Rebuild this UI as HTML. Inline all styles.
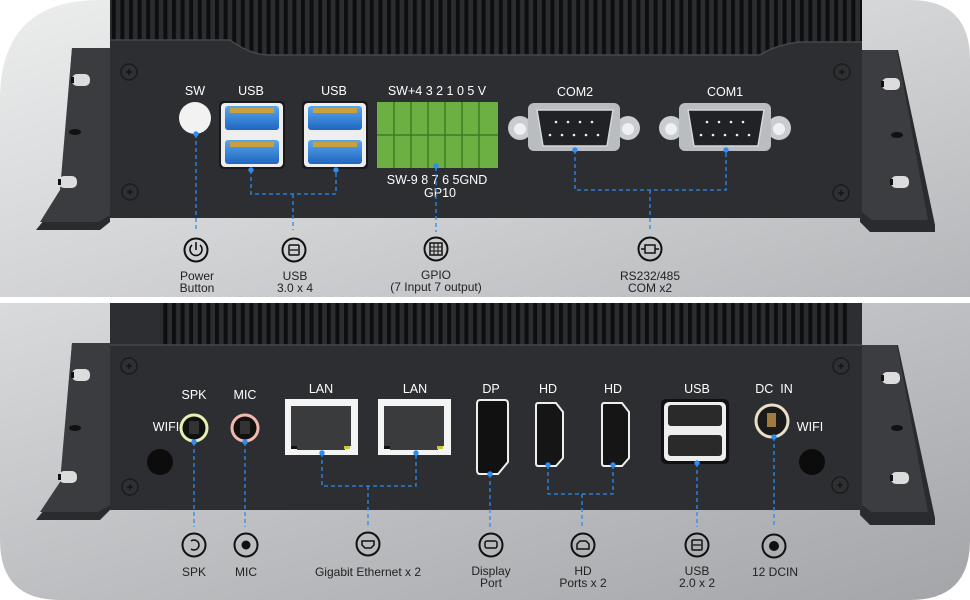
<!DOCTYPE html>
<html><head><meta charset="utf-8"><style>
html,body{margin:0;padding:0;background:#fff;}
svg{display:block;}
text{font-family:"Liberation Sans",sans-serif;}
</style></head><body>
<svg width="970" height="600" viewBox="0 0 970 600" xmlns="http://www.w3.org/2000/svg">
<defs>
<linearGradient id="bg" x1="0" y1="0" x2="1" y2="1">
<stop offset="0" stop-color="#eceded"/><stop offset="0.5" stop-color="#d3d4d6"/><stop offset="1" stop-color="#b4b6b9"/>
</linearGradient>
<linearGradient id="bg2" x1="0" y1="0" x2="1" y2="1">
<stop offset="0" stop-color="#d9dadc"/><stop offset="0.6" stop-color="#b8babd"/><stop offset="1" stop-color="#a3a5a9"/>
</linearGradient>
<pattern id="fins" width="8.6" height="60" patternUnits="userSpaceOnUse">
<rect width="8.6" height="60" fill="#2b2d30"/><rect x="0" width="4" height="60" fill="#0d0e10"/>
</pattern>
<linearGradient id="blue" x1="0" y1="0" x2="0" y2="1"><stop offset="0" stop-color="#5aa6ee"/><stop offset="1" stop-color="#1f66c0"/></linearGradient>
<g id="screw"><circle r="8" fill="#2e3033" stroke="#1a1b1d" stroke-width="1.5"/><path d="M-3 0h6M0-3v6" stroke="#111" stroke-width="1.2"/></g>
<g id="slot"><rect x="-9" y="-6" width="18" height="12" rx="5" fill="#dcdcdc"/><rect x="-10" y="-3" width="3" height="6" fill="#111"/></g>
</defs>

<!-- TOP PANEL -->
<path d="M100 0 H910 Q970 0 970 60 V297 H0 V100 Q0 0 100 0Z" fill="url(#bg)"/>
<path d="M72 48 H110 V222 L100 230 H36 L60 200Z" fill="#2a2b2e"/>
<path d="M72 48 H110 V215 L98 222 H40 L60 190Z" fill="#3a3c40"/>
<use href="#slot" x="81" y="80"/><use href="#slot" x="68" y="182"/>
<ellipse cx="75" cy="132" rx="6" ry="3" fill="#111"/>
<path d="M862 50 H898 L935 225 V232 H870 L860 222Z" fill="#2a2b2e"/>
<path d="M862 50 H897 L928 220 H872 L862 212Z" fill="#3b3d41"/>
<use href="#slot" x="891" y="84"/><use href="#slot" x="900" y="182"/>
<ellipse cx="897" cy="135" rx="6" ry="3" fill="#111"/>
<rect x="110" y="0" width="752" height="60" fill="url(#fins)"/>
<path d="M110 40 H230 Q250 55 270 55 H760 Q775 45 800 42 H862 V218 H110Z" fill="#2c2e31"/>
<path d="M110 40 H230 Q250 55 270 55 H760 Q775 45 800 42 H862" fill="none" stroke="#44474b" stroke-width="1.5"/>
<use href="#screw" x="129" y="72"/><use href="#screw" x="130" y="192"/>
<use href="#screw" x="842" y="72"/><use href="#screw" x="841" y="193"/>

<g font-size="12.5" fill="#fff" text-anchor="middle">
<text x="195" y="95">SW</text><text x="251" y="95">USB</text><text x="334" y="95">USB</text>
<text x="437" y="95">SW+4 3 2 1 0 5 V</text>
<text x="437" y="184">SW-9 8 7 6 5GND</text><text x="440" y="197">GP10</text>
<text x="575" y="96">COM2</text><text x="725" y="96">COM1</text>
</g>
<circle cx="195" cy="118" r="16" fill="#f2f2f2"/>
<g id="u3">
<rect x="219" y="101" width="66" height="68" rx="4" fill="#1a1a1c"/>
<rect x="221" y="103" width="62" height="64" rx="4" fill="#eee"/>
<rect x="225" y="106" width="54" height="24" rx="3" fill="url(#blue)"/>
<rect x="225" y="140" width="54" height="24" rx="3" fill="url(#blue)"/>
<rect x="230" y="108" width="44" height="5" fill="#c8a040"/><rect x="230" y="142" width="44" height="5" fill="#c8a040"/>
</g>
<use href="#u3" x="83"/>
<rect x="377" y="102" width="121" height="66" fill="#6cb043"/>
<g stroke="#3e7a23" stroke-width="1.5">
<path d="M377 135 H498"/>
<path d="M394 102V168M411 102V168M428 102V168M445 102V168M462 102V168M479 102V168"/>
</g>
<g id="com">
<circle cx="520" cy="128" r="12" fill="#c9ccd0"/><circle cx="520" cy="129" r="6" fill="#eef0f2"/>
<circle cx="628" cy="128" r="12" fill="#c9ccd0"/><circle cx="628" cy="129" r="6" fill="#eef0f2"/>
<rect x="528" y="103" width="92" height="48" rx="6" fill="#b9bcc0"/>
<path d="M537 110 H613 L607 146 H543Z" fill="#202225" stroke="#d5d7da" stroke-width="1.5"/>
<g fill="#eee"><circle cx="556" cy="122" r="1.3"/><circle cx="568" cy="122" r="1.3"/><circle cx="580" cy="122" r="1.3"/><circle cx="592" cy="122" r="1.3"/>
<circle cx="550" cy="135" r="1.3"/><circle cx="562" cy="135" r="1.3"/><circle cx="574" cy="135" r="1.3"/><circle cx="586" cy="135" r="1.3"/><circle cx="598" cy="135" r="1.3"/></g>
</g>
<use href="#com" x="151"/>

<g stroke="#2b8cf2" stroke-width="1.3" stroke-dasharray="4 3" fill="none">
<path d="M196 134 V230"/>
<path d="M251 170 V194 H336 V170 M293 194 V230"/>
<path d="M436 167 V232"/>
<path d="M575 150 V190 H726 V150 M650 190 V232"/>
</g>
<g fill="#2b8cf2"><circle cx="196" cy="134" r="2.7"/><circle cx="251" cy="170" r="2.7"/><circle cx="336" cy="170" r="2.7"/><circle cx="436" cy="166" r="2.7"/><circle cx="575" cy="150" r="2.7"/><circle cx="726" cy="150" r="2.7"/></g>

<g fill="none" stroke="#111" stroke-width="2">
<circle cx="196" cy="250" r="11.5"/><circle cx="294" cy="250" r="11.5"/><circle cx="436" cy="249" r="11.5"/><circle cx="650" cy="249" r="11.5"/>
<path d="M192 245 A6 6 0 1 0 200 245 M196 242 V250" stroke-width="1.6"/>
<rect x="289" y="245" width="10" height="10" rx="1" stroke-width="1.5"/><path d="M290 250 H298" stroke-width="1.3"/>
<rect x="430" y="243" width="12" height="12" stroke-width="1.5"/><path d="M434 243V255M438 243V255M430 247H442M430 251H442" stroke-width="1"/>
<rect x="645" y="245" width="10" height="8" stroke-width="1.5"/><path d="M641 249H645M655 249H659" stroke-width="1.5"/>
</g>
<g font-size="12" fill="#222" text-anchor="middle">
<text x="197" y="280">Power</text><text x="197" y="292">Button</text>
<text x="295" y="280">USB</text><text x="295" y="292">3.0 x 4</text>
<text x="436" y="279">GPIO</text><text x="436" y="291">(7 Input 7 output)</text>
<text x="650" y="280">RS232/485</text><text x="650" y="292">COM x2</text>
</g>

<!-- BOTTOM PANEL -->
<path d="M0 303 H970 V540 Q970 600 910 600 H60 Q0 600 0 540Z" fill="url(#bg2)"/>
<path d="M72 343 H110 V510 L100 520 H36 L60 490Z" fill="#2a2b2e"/>
<path d="M72 343 H110 V505 L98 512 H40 L60 482Z" fill="#3a3c40"/>
<use href="#slot" x="81" y="375"/><use href="#slot" x="68" y="477"/>
<ellipse cx="75" cy="428" rx="6" ry="3" fill="#111"/>
<path d="M862 345 H898 L935 518 V525 H870 L860 515Z" fill="#2a2b2e"/>
<path d="M862 345 H897 L928 512 H872 L862 505Z" fill="#3b3d41"/>
<use href="#slot" x="891" y="378"/><use href="#slot" x="900" y="478"/>
<ellipse cx="897" cy="428" rx="6" ry="3" fill="#111"/>
<rect x="110" y="303" width="752" height="207" fill="#2c2e31"/>
<rect x="160" y="303" width="690" height="42" fill="url(#fins)"/>
<path d="M110 345 H862" stroke="#44474b" stroke-width="1.5"/>
<use href="#screw" x="129" y="366"/><use href="#screw" x="130" y="487"/>
<use href="#screw" x="841" y="366"/><use href="#screw" x="840" y="485"/>
<circle cx="160" cy="462" r="13" fill="#0c0c0d"/><circle cx="812" cy="462" r="13" fill="#0c0c0d"/>

<g font-size="12.5" fill="#fff" text-anchor="middle">
<text x="166" y="431">WIFI</text><text x="810" y="431">WIFI</text>
<text x="194" y="399">SPK</text><text x="245" y="399">MIC</text>
<text x="321" y="393">LAN</text><text x="415" y="393">LAN</text>
<text x="491" y="393">DP</text><text x="548" y="393">HD</text><text x="613" y="393">HD</text>
<text x="697" y="393">USB</text><text x="774" y="393">DC&#160;&#160;IN</text>
</g>
<circle cx="194" cy="428" r="13" fill="#111" stroke="#e6f0b0" stroke-width="3"/>
<rect x="189" y="421" width="10" height="13" fill="#333"/>
<circle cx="245" cy="428" r="13" fill="#111" stroke="#f2b8b0" stroke-width="3"/>
<rect x="240" y="421" width="10" height="13" fill="#333"/>
<g id="lan">
<rect x="285" y="399" width="73" height="56" fill="#f4f4f4"/>
<rect x="291" y="406" width="60" height="40" fill="#3a3b3d"/>
<rect x="297" y="440" width="48" height="10" fill="#3a3b3d"/>
<rect x="291" y="446" width="6" height="3" fill="#111"/><rect x="344" y="446" width="6" height="3" fill="#c8c83a"/>
</g>
<use href="#lan" x="93"/>
<path d="M480 400 H505 Q508 400 508 404 V462 L498 474 H480 Q477 474 477 470 V404 Q477 400 480 400Z" fill="#111" stroke="#eee" stroke-width="2"/>
<g id="hd">
<path d="M538 403 H556 L563 412 V458 L556 466 H538 Q536 466 536 463 V406 Q536 403 538 403Z" fill="#151515" stroke="#eee" stroke-width="2"/>
</g>
<use href="#hd" x="66"/>
<rect x="661" y="399" width="68" height="65" rx="5" fill="#111"/>
<rect x="664" y="402" width="62" height="59" rx="5" fill="#eee"/>
<rect x="668" y="405" width="54" height="21" rx="3" fill="#2a2a2a"/><rect x="668" y="435" width="54" height="21" rx="3" fill="#2a2a2a"/>
<circle cx="772" cy="421" r="16" fill="#1a1a1a" stroke="#e8e0c8" stroke-width="3"/>
<rect x="767" y="413" width="9" height="14" fill="#a07a40"/>

<g stroke="#2b8cf2" stroke-width="1.3" stroke-dasharray="4 3" fill="none">
<path d="M194 442 V527"/><path d="M245 442 V527"/>
<path d="M322 453 V486 H416 V453 M368 486 V527"/>
<path d="M490 474 V527"/>
<path d="M548 465 V494 H613 V465 M582 494 V527"/>
<path d="M697 463 V527"/><path d="M774 437 V527"/>
</g>
<g fill="#2b8cf2"><circle cx="194" cy="442" r="2.7"/><circle cx="245" cy="442" r="2.7"/><circle cx="322" cy="453" r="2.7"/><circle cx="416" cy="453" r="2.7"/><circle cx="490" cy="474" r="2.7"/><circle cx="548" cy="465" r="2.7"/><circle cx="613" cy="465" r="2.7"/><circle cx="697" cy="463" r="2.7"/><circle cx="774" cy="437" r="2.7"/></g>

<g fill="none" stroke="#111" stroke-width="2">
<circle cx="194" cy="545" r="11.5"/><circle cx="246" cy="545" r="11.5"/><circle cx="368" cy="544" r="11.5"/><circle cx="491" cy="545" r="11.5"/><circle cx="583" cy="545" r="11.5"/><circle cx="697" cy="545" r="11.5"/><circle cx="774" cy="546" r="11.5"/>
<path d="M191 541 A5 5 0 1 1 191 549" stroke-width="1.6"/>
<path d="M362 541 H374 V545 L371 548 H365 L362 545Z" stroke-width="1.5"/>
<rect x="485" y="541" width="12" height="7" rx="2" stroke-width="1.5"/>
<path d="M577 549 V544 L580 541 H586 L589 544 V549Z" stroke-width="1.5"/>
<rect x="692" y="540" width="10" height="10" rx="1" stroke-width="1.5"/><path d="M693 545 H701" stroke-width="1.3"/>
</g>
<circle cx="246" cy="545" r="4.5" fill="#111"/><circle cx="774" cy="546" r="5" fill="#111"/>
<g font-size="12" fill="#222" text-anchor="middle">
<text x="194" y="576">SPK</text><text x="246" y="576">MIC</text>
<text x="368" y="576">Gigabit Ethernet x 2</text>
<text x="491" y="575">Display</text><text x="491" y="587">Port</text>
<text x="583" y="575">HD</text><text x="583" y="587">Ports x 2</text>
<text x="697" y="575">USB</text><text x="697" y="587">2.0 x 2</text>
<text x="775" y="576">12 DCIN</text>
</g>
</svg>
</body></html>
